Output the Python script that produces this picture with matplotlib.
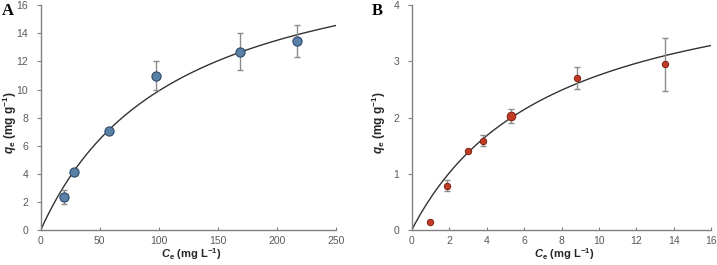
import numpy as np
import matplotlib
matplotlib.use("Agg")
import matplotlib.pyplot as plt

plt.rcParams['font.family'] = ['Liberation Sans', 'DejaVu Sans']
plt.rcParams['mathtext.fontset'] = 'custom'
plt.rcParams['mathtext.rm'] = 'Liberation Sans:bold'
plt.rcParams['mathtext.it'] = 'Liberation Sans:italic:bold'
plt.rcParams['mathtext.bf'] = 'Liberation Sans:bold'
plt.rcParams['mathtext.bfit'] = 'Liberation Sans:italic:bold'

# Panel A data
ce_a = [20, 28, 58, 98, 169, 217]
qe_a = [2.35, 4.1, 7.05, 11.0, 12.7, 13.45]
err_a_low = [0.5, 0.0, 0.0, 1.0, 1.3, 1.1]
err_a_high = [0.5, 0.0, 0.0, 1.05, 1.3, 1.15]
qmax_a = 21.2
kl_a = 0.00877

# Panel B data
ce_b = [1.0, 1.9, 3.0, 3.8, 5.3, 8.8, 13.5]
qe_b = [0.15, 0.79, 1.40, 1.59, 2.03, 2.71, 2.95]
err_b_low = [0.0, 0.1, 0.0, 0.1, 0.13, 0.2, 0.48]
err_b_high = [0.0, 0.1, 0.0, 0.1, 0.13, 0.2, 0.47]
size_b = [4.6, 4.6, 4.6, 4.6, 6.2, 4.6, 4.6]
qmax_b = 4.83
kl_b = 0.133

xticks_a = [0, 50, 100, 150, 200, 250]
yticks_a = [0, 2, 4, 6, 8, 10, 12, 14, 16]
xticks_b = [0, 2, 4, 6, 8, 10, 12, 14, 16]
yticks_b = [0, 1, 2, 3, 4]

fig = plt.figure(figsize=(7.17, 2.65), dpi=100)
ax_a = fig.add_axes([0.0568, 0.132, 0.4114, 0.848])
ax_b = fig.add_axes([0.5742, 0.132, 0.4180, 0.848])

grey = '#595959'
spine_c = '#808080'

def style(ax, xt, yt, ylab_x):
    for s in ['top', 'right']:
        ax.spines[s].set_visible(False)
    for s in ['left', 'bottom']:
        ax.spines[s].set_color(spine_c)
        ax.spines[s].set_linewidth(1.0)
    ax.set_xticks(xt)
    ax.set_yticks(yt)
    ax.set_xlim(xt[0], xt[-1])
    ax.set_ylim(yt[0], yt[-1])
    ax.tick_params(axis='y', direction='out', length=3, color=spine_c, labelsize=7.5, labelcolor=grey, pad=6)
    ax.tick_params(axis='x', direction='in', length=2, color=spine_c, labelsize=7.5, labelcolor=grey, pad=4)
    ax.set_xlabel(r'$\boldsymbol{C}_\mathbf{e}$ (mg L$^{\mathbf{-1}}$)', fontsize=8, fontweight='bold',
                  color='#262626', va='center')
    ax.set_ylabel(r'$\boldsymbol{q}_\mathbf{e}$ (mg g$^{\mathbf{-1}}$)', fontsize=8.5, fontweight='bold',
                  color='#262626', va='center')
    ax.xaxis.set_label_coords(0.51, -0.108)
    ax.yaxis.set_label_coords(ylab_x, 0.48)

style(ax_a, xticks_a, yticks_a, -0.106)
style(ax_b, xticks_b, yticks_b, -0.108)

# Panel A
xa = np.linspace(0, 250, 300)
ax_a.plot(xa, qmax_a * kl_a * xa / (1 + kl_a * xa), color='#333333', lw=1.0, zorder=2)
ax_a.errorbar(ce_a, qe_a, yerr=[err_a_low, err_a_high], fmt='none', ecolor='#8c8c8c',
              elinewidth=1.0, capsize=2.5, capthick=1.0, zorder=3)
ax_a.plot(ce_a, qe_a, 'o', ms=6.6, mfc='#5b80a6', mec='#2c4a6b', mew=0.8, zorder=4, clip_on=False)

# Panel B
xb = np.linspace(0, 16, 300)
ax_b.plot(xb, qmax_b * kl_b * xb / (1 + kl_b * xb), color='#333333', lw=1.0, zorder=2)
ax_b.errorbar(ce_b, qe_b, yerr=[err_b_low, err_b_high], fmt='none', ecolor='#8c8c8c',
              elinewidth=1.0, capsize=2.5, capthick=1.0, zorder=3)
for x, y, s in zip(ce_b, qe_b, size_b):
    ax_b.plot([x], [y], 'o', ms=s, mfc='#c23b25', mec='#7a2214', mew=0.7, zorder=4)

fig.text(0.003, 0.945, 'A', fontsize=12, fontweight='bold', family='Liberation Serif')
fig.text(0.519, 0.945, 'B', fontsize=12, fontweight='bold', family='Liberation Serif')

fig.savefig('out.png', dpi=100)
